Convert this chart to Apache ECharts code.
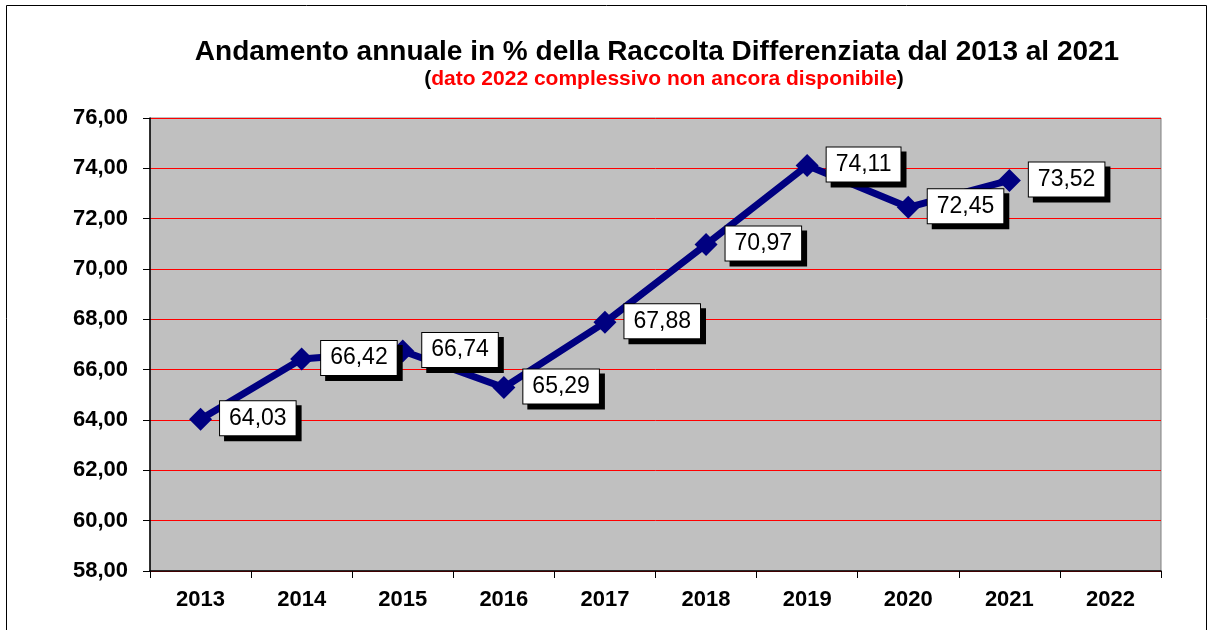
<!DOCTYPE html>
<html><head><meta charset="utf-8">
<script src="https://cdn.jsdelivr.net/npm/echarts@6/dist/echarts.min.js"></script>
<style>html,body{margin:0;padding:0;background:#fff}#c{width:1210px;height:630px}</style>
</head><body><div id="c"></div>
<script>
const categories = ['2013','2014','2015','2016','2017','2018','2019','2020','2021','2022'];
const values = [64.03, 66.42, 66.74, 65.29, 67.88, 70.97, 74.11, 72.45, 73.52, null];
const yTicks = {min: 58, max: 76, interval: 2};
const titleText = 'Andamento annuale in % della Raccolta Differenziata dal 2013 al 2021';
const subtitleText = 'dato 2022 complessivo non ancora disponibile';

const fmt = v => v.toFixed(2).replace('.', ',');
const chart = echarts.init(document.getElementById('c'));
chart.setOption({
  animation: false,
  backgroundColor: '#fff',
  graphic: [
    {type: 'rect', shape: {x: 6.5, y: 5.5, width: 1200, height: 640}, style: {fill: 'none', stroke: '#000', lineWidth: 1}, z: -1}
  ],
  title: [{
    text: titleText,
    left: 652, top: 33, textAlign: 'center',
    textStyle: {fontFamily: 'Liberation Sans', fontWeight: 'bold', fontSize: 28, color: '#000'}
  }, {
    text: '{p|(}{r|' + subtitleText + '}{p|)}',
    left: 659, top: 64, textAlign: 'center',
    textStyle: {rich: {
      p: {fontFamily: 'Liberation Sans', fontWeight: 'bold', fontSize: 21, color: '#000'},
      r: {fontFamily: 'Liberation Sans', fontWeight: 'bold', fontSize: 21, color: '#ff0000'}
    }}
  }],
  grid: {left: 150, top: 118, width: 1011, height: 453, show: true, backgroundColor: '#c0c0c0', borderColor: '#808080', borderWidth: 1},
  xAxis: {
    type: 'category', data: categories, boundaryGap: true,
    axisLine: {lineStyle: {color: '#000', width: 1.5}},
    axisTick: {show: true, length: 7, lineStyle: {color: '#000'}},
    axisLabel: {fontFamily: 'Liberation Sans', fontWeight: 'bold', fontSize: 22, color: '#000', margin: 18}
  },
  yAxis: {
    type: 'value', min: yTicks.min, max: yTicks.max, interval: yTicks.interval,
    axisLine: {show: true, lineStyle: {color: '#000', width: 1.5}},
    axisTick: {show: true, length: 7, lineStyle: {color: '#000'}},
    axisLabel: {fontFamily: 'Liberation Sans', fontWeight: 'bold', fontSize: 22, color: '#000', margin: 22, formatter: v => fmt(v)},
    splitLine: {lineStyle: {color: '#ff0000', width: 1}}
  },
  series: [{
    type: 'line', data: values,
    symbol: 'diamond', symbolSize: 23,
    lineStyle: {color: '#000080', width: 7},
    itemStyle: {color: '#000080'},
    label: {
      show: true, position: 'right', distance: 8, offset: [0, -1],
      formatter: p => fmt(p.value),
      fontFamily: 'Liberation Sans', fontSize: 23, color: '#000',
      backgroundColor: '#fff', borderColor: '#000', borderWidth: 1,
      padding: [6, 9, 5, 9],
      shadowColor: '#000', shadowOffsetX: 5, shadowOffsetY: 5, shadowBlur: 0
    }
  }]
});
</script></body></html>
